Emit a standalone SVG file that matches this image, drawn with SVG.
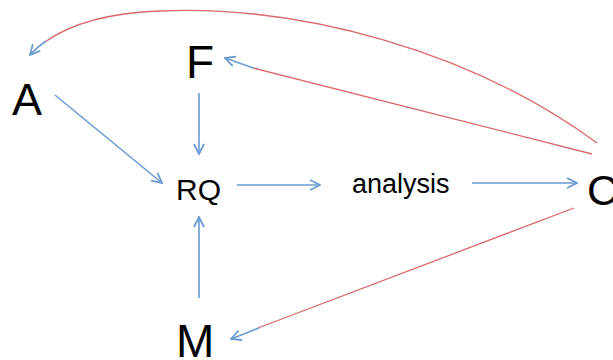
<svg xmlns="http://www.w3.org/2000/svg" width="613" height="360" viewBox="0 0 613 360">
<style>
.lbl{font-family:"Liberation Sans",Arial,sans-serif;fill:#000}
.b{stroke:#6a9bd2;stroke-width:1.6;fill:none}
.r{stroke:#d9696b;stroke-width:1.3;fill:none}
</style>
<defs>
<marker id="ah" viewBox="0 0 12 12" refX="11" refY="6" markerWidth="12" markerHeight="12" markerUnits="userSpaceOnUse" orient="auto">
<path d="M1,1 L11,6 L1,11" fill="none" stroke="#6a9bd2" stroke-width="1.8"/>
</marker>
</defs>
<rect width="613" height="360" fill="#fff"/>
<g id="connectors">
<line class="b" x1="55" y1="95" x2="162" y2="183" marker-end="url(#ah)"/>
<line class="b" x1="199" y1="93" x2="199" y2="154" marker-end="url(#ah)"/>
<line class="b" x1="237" y1="185" x2="320" y2="185" marker-end="url(#ah)"/>
<line class="b" x1="472" y1="183" x2="577" y2="183" marker-end="url(#ah)"/>
<line class="b" x1="199" y1="298" x2="199" y2="217" marker-end="url(#ah)"/>
<line class="r" x1="574" y1="208" x2="258" y2="328"/>
<line class="b" x1="259" y1="328" x2="231" y2="339" marker-end="url(#ah)"/>
<line class="r" x1="592" y1="154" x2="253" y2="68"/>
<line class="b" x1="254" y1="68.3" x2="225" y2="58" marker-end="url(#ah)"/>
<path class="r" d="M597,143 C470,50 300,5 160,11 C105,13 70,24 45,42"/>
<path class="b" d="M46,41 Q37,47 30,55" marker-end="url(#ah)"/>
</g>
<g id="node-A"><text class="lbl" x="12" y="115" font-size="45">A</text></g>
<g id="node-F"><text class="lbl" x="186" y="78" font-size="46">F</text></g>
<g id="node-RQ"><text class="lbl" x="176" y="200" font-size="30">RQ</text></g>
<g id="node-analysis"><text class="lbl" x="352" y="193" font-size="27">analysis</text></g>
<g id="node-C"><text class="lbl" x="587" y="205" font-size="43">C</text></g>
<g id="node-M"><text class="lbl" x="176" y="357" font-size="46">M</text></g>
</svg>
